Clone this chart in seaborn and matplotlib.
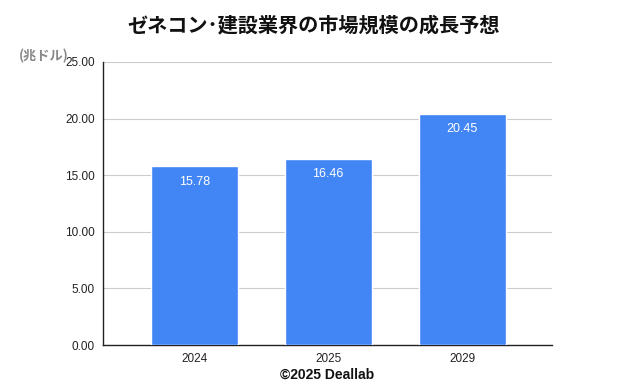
import matplotlib
matplotlib.use("Agg")
import matplotlib.pyplot as plt
import seaborn as sns
import pandas as pd

years = ["2024", "2025", "2029"]
market_size = [15.78, 16.46, 20.45]
yticks = [0, 5, 10, 15, 20, 25]

sns.set_theme(style="white")
plt.rcParams["font.family"] = ["Noto Sans CJK JP", "DejaVu Sans"]

df = pd.DataFrame({"year": years, "value": market_size})

fig = plt.figure(figsize=(6.26, 3.86), dpi=100)
ax = fig.add_axes([0.1645, 0.1062, 0.7173, 0.7332])

sns.barplot(data=df, x="year", y="value", color="#4285f4", saturation=1,
            width=0.65, ax=ax, zorder=3)

ax.set_xlim(-0.683, 2.672)
ax.set_ylim(0, 25)
ax.set_yticks(yticks)
ax.set_yticklabels([f"{v:.2f}" for v in yticks], fontsize=8.5, color="#222222",
                   family=["Liberation Sans", "DejaVu Sans"])
ax.set_xticklabels(years, fontsize=8.5, color="#222222",
                   family=["Liberation Sans", "DejaVu Sans"])
ax.tick_params(axis="both", length=0, pad=6)
ax.yaxis.grid(True, color="#cccccc", linewidth=0.8, zorder=0)
ax.set_xlabel("")
ax.set_ylabel("")
for s in ["top", "right"]:
    ax.spines[s].set_visible(False)
ax.spines["left"].set_color("#222222")
ax.spines["bottom"].set_color("#222222")
ax.spines["left"].set_linewidth(1)
ax.spines["bottom"].set_linewidth(1)

for p, v in zip(ax.patches, market_size):
    ax.annotate(f"{v:.2f}", (p.get_x() + p.get_width() / 2, v),
                xytext=(0, -11), textcoords="offset points",
                ha="center", va="center", color="white", fontsize=9,
                family=["Liberation Sans", "DejaVu Sans"])

fig.text(0.5, 0.935, "ゼネコン･建設業界の市場規模の成長予想", ha="center", va="center",
         fontsize=14.5, fontweight="bold", color="#111111")
fig.text(0.03, 0.855, "(兆ドル)", ha="left", va="center", fontsize=9.5,
         color="#888888", fontweight="bold")
fig.text(0.523, 0.028, "©2025 Deallab", ha="center", va="center", fontsize=10,
         fontweight="bold", color="#111111", family=["Liberation Sans", "DejaVu Sans"])

fig.savefig("out.png", dpi=100, facecolor="white")
